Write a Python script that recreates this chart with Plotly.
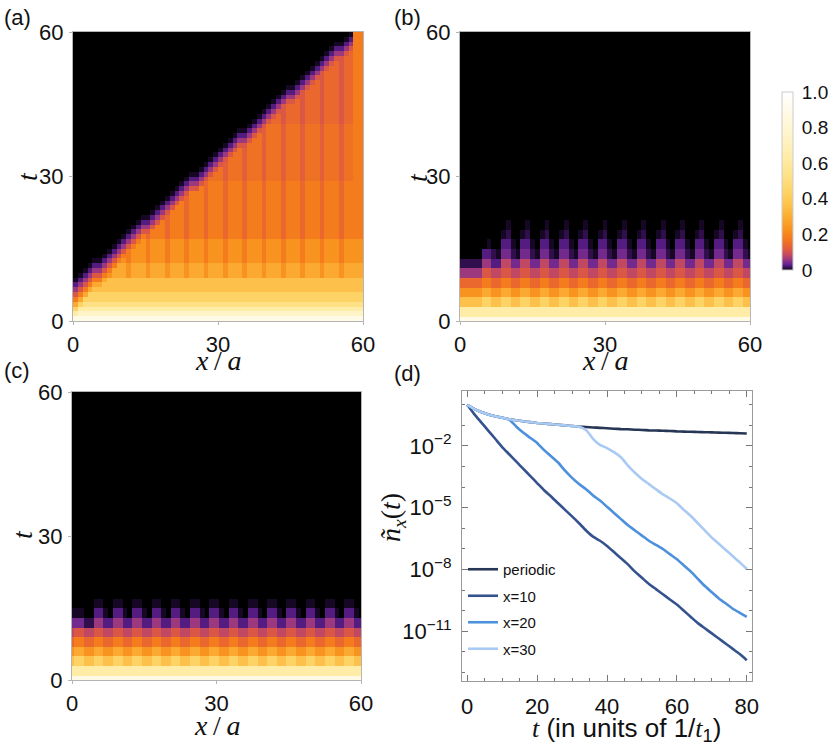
import plotly.graph_objects as go

SANS = "Liberation Sans, Arial, sans-serif"
SERIF = "Liberation Serif, Times New Roman, serif"

W, H = 831, 747

# ---- density maps (a)-(c): one character per cell, bottom row (t=0) first ----
LEVEL_CHARS = "0123456789abcdefghijk"
LEVEL_VALUES = [0, 0.005, 0.012, 0.025, 0.04, 0.06, 0.085, 0.11, 0.14, 0.18,
                0.23, 0.29, 0.36, 0.44, 0.53, 0.63, 0.75, 0.88, 1.0, 0.16, 0.125]

# (a) open chain: 60 sites x 60 time steps
MAP_A = [
    "hhhh hhhh hhhh hhhh hhhh hhhh hhhh hhhh hhhh hhhh hhhh hhhh hhhh hhhh hhhh",
    "fggg gggg gggg gggg gggg gggg gggg gggg gggg gggg gggg gggg gggg gggg gggg",
    "dfff ffff ffff ffff ffff ffff ffff ffff ffff ffff ffff ffff ffff ffff ffff",
    "bdee eeee eeee eeee eeee eeee eeee eeee eeee eeee eeee eeee eeee eeee eeee",
    "9bdd dddd dddd dddd dddd dddd dddd dddd dddd dddd dddd dddd dddd dddd dddd",
    "79bd dddd dddd dddd dddd dddd dddd dddd dddd dddd dddd dddd dddd dddd dddd",
    "579b cccc cccc cccc cccc cccc cccc cccc cccc cccc cccc cccc cccc cccc cccc",
    "3579 bbcc cccc cccc cccc cccc cccc cccc cccc cccc cccc cccc cccc cccc cccc",
    "1357 99bc cccc cccc cccc cccc cccc cccc cccc cccc cccc cccc cccc cccc cccc",
    "0135 779a bbba bbba bbba bbba bbba bbba bbba bbba bbba bbba bbba bbba bbbb",
    "0013 5579 bbba bbba bbba bbba bbba bbba bbba bbba bbba bbba bbba bbba bbbb",
    "0001 3357 9bba bbba bbba bbba bbba bbba bbba bbba bbba bbba bbba bbba bbbb",
    "0000 1135 79a9 aaa9 aaa9 aaa9 aaa9 aaa9 aaa9 aaa9 aaa9 aaa9 aaa9 aaa9 aaaa",
    "0000 0013 5799 aaa9 aaa9 aaa9 aaa9 aaa9 aaa9 aaa9 aaa9 aaa9 aaa9 aaa9 aaaa",
    "0000 0001 3579 aaa9 aaa9 aaa9 aaa9 aaa9 aaa9 aaa9 aaa9 aaa9 aaa9 aaa9 aaaa",
    "0000 0000 1357 9aa9 aaa9 aaa9 aaa9 aaa9 aaa9 aaa9 aaa9 aaa9 aaa9 aaa9 aaaa",
    "0000 0000 0135 79a9 aaa9 aaa9 aaa9 aaa9 aaa9 aaa9 aaa9 aaa9 aaa9 aaa9 aaaa",
    "0000 0000 0013 5798 9998 9998 9998 9998 9998 9998 9998 9998 9998 9998 9999",
    "0000 0000 0001 3577 9998 9998 9998 9998 9998 9998 9998 9998 9998 9998 9999",
    "0000 0000 0000 1355 7998 9998 9998 9998 9998 9998 9998 9998 9998 9998 9999",
    "0000 0000 0000 0133 5798 9998 9998 9998 9998 9998 9998 9998 9998 9998 9999",
    "0000 0000 0000 0011 3578 9998 9998 9998 9998 9998 9998 9998 9998 9998 9999",
    "0000 0000 0000 0000 1357 9998 9998 9998 9998 9998 9998 9998 9998 9998 9999",
    "0000 0000 0000 0000 0135 7998 9998 9998 9998 9998 9998 9998 9998 9998 9999",
    "0000 0000 0000 0000 0013 5798 9998 9998 9998 9998 9998 9998 9998 9998 9999",
    "0000 0000 0000 0000 0001 3578 9998 9998 9998 9998 9998 9998 9998 9998 9999",
    "0000 0000 0000 0000 0000 1357 9998 9998 9998 9998 9998 9998 9998 9998 9999",
    "0000 0000 0000 0000 0000 0135 7798 9998 9998 9998 9998 9998 9998 9998 9999",
    "0000 0000 0000 0000 0000 0013 5578 9998 9998 9998 9998 9998 9998 9998 9999",
    "0000 0000 0000 0000 0000 0001 3357 jjjk jjjk jjjk jjjk jjjk jjjk jjjk jj99",
    "0000 0000 0000 0000 0000 0000 1135 7jjk jjjk jjjk jjjk jjjk jjjk jjjk jj99",
    "0000 0000 0000 0000 0000 0000 0013 57jk jjjk jjjk jjjk jjjk jjjk jjjk jj99",
    "0000 0000 0000 0000 0000 0000 0001 357k jjjk jjjk jjjk jjjk jjjk jjjk jj99",
    "0000 0000 0000 0000 0000 0000 0000 1357 jjjk jjjk jjjk jjjk jjjk jjjk jj99",
    "0000 0000 0000 0000 0000 0000 0000 0135 7jjk jjjk jjjk jjjk jjjk jjjk jj99",
    "0000 0000 0000 0000 0000 0000 0000 0013 57jk jjjk jjjk jjjk jjjk jjjk jj99",
    "0000 0000 0000 0000 0000 0000 0000 0001 3577 jjjk jjjk jjjk jjjk jjjk jj99",
    "0000 0000 0000 0000 0000 0000 0000 0000 1355 7jjk jjjk jjjk jjjk jjjk jj99",
    "0000 0000 0000 0000 0000 0000 0000 0000 0133 57jk jjjk jjjk jjjk jjjk jj99",
    "0000 0000 0000 0000 0000 0000 0000 0000 0011 357k jjjk jjjk jjjk jjjk jj99",
    "0000 0000 0000 0000 0000 0000 0000 0000 0000 1357 jjjk jjjk jjjk jjjk jj99",
    "0000 0000 0000 0000 0000 0000 0000 0000 0000 0135 7887 8887 8887 8887 8899",
    "0000 0000 0000 0000 0000 0000 0000 0000 0000 0013 5787 8887 8887 8887 8899",
    "0000 0000 0000 0000 0000 0000 0000 0000 0000 0001 3577 8887 8887 8887 8899",
    "0000 0000 0000 0000 0000 0000 0000 0000 0000 0000 1357 8887 8887 8887 8899",
    "0000 0000 0000 0000 0000 0000 0000 0000 0000 0000 0135 7787 8887 8887 8899",
    "0000 0000 0000 0000 0000 0000 0000 0000 0000 0000 0013 5577 8887 8887 8899",
    "0000 0000 0000 0000 0000 0000 0000 0000 0000 0000 0001 3357 8887 8887 8899",
    "0000 0000 0000 0000 0000 0000 0000 0000 0000 0000 0000 1135 7887 8887 8899",
    "0000 0000 0000 0000 0000 0000 0000 0000 0000 0000 0000 0013 5787 8887 8899",
    "0000 0000 0000 0000 0000 0000 0000 0000 0000 0000 0000 0001 3577 8887 8899",
    "0000 0000 0000 0000 0000 0000 0000 0000 0000 0000 0000 0000 1357 8887 8899",
    "0000 0000 0000 0000 0000 0000 0000 0000 0000 0000 0000 0000 0135 7887 8899",
    "0000 0000 0000 0000 0000 0000 0000 0000 0000 0000 0000 0000 0013 5787 8899",
    "0000 0000 0000 0000 0000 0000 0000 0000 0000 0000 0000 0000 0001 3577 8899",
    "0000 0000 0000 0000 0000 0000 0000 0000 0000 0000 0000 0000 0000 1355 7899",
    "0000 0000 0000 0000 0000 0000 0000 0000 0000 0000 0000 0000 0000 0133 5799",
    "0000 0000 0000 0000 0000 0000 0000 0000 0000 0000 0000 0000 0000 0011 3599",
    "0000 0000 0000 0000 0000 0000 0000 0000 0000 0000 0000 0000 0000 0000 1399",
    "0000 0000 0000 0000 0000 0000 0000 0000 0000 0000 0000 0000 0000 0000 0199",
]

# (b), (c): 61 sites (x = 0..60), t = 0, 2, ..., 20 / 16; later rows are all 0
MAP_B = [
    "h hhhh hhhh hhhh hhhh hhhh hhhh hhhh hhhh hhhh hhhh hhhh hhhh hhhh hhhh hhhh",
    "f ffff ffff ffff ffff ffff ffff ffff ffff ffff ffff ffff ffff ffff ffff ffff",
    "c cccc ddcc ddcc ddcc ddcc ddcc ddcc ddcc ddcc ddcc ddcc ddcc ddcc ddcc ddcc",
    "a aaaa bbaa bbaa bbaa bbaa bbaa bbaa bbaa bbaa bbaa bbaa bbaa bbaa bbaa bbaa",
    "8 8888 9988 9988 9988 9988 9988 9988 9988 9988 9988 9988 9988 9988 9988 9988",
    "5 5555 7766 7766 7766 7766 7766 7766 7766 7766 7766 7766 7766 7766 7766 7766",
    "2 2222 5533 6644 6644 6644 6644 6644 6644 6644 6644 6644 6644 6644 6644 6644",
    "0 0000 3321 4421 4421 4421 4421 4421 4421 4421 4421 4421 4421 4421 4421 4421",
    "0 0000 0100 3310 3310 3310 3310 3310 3310 3310 3310 3310 3310 3310 3310 3310",
    "0 0000 0000 1200 1200 1200 1200 1200 1200 1200 1200 1200 1200 1200 1200 1200",
    "0 0000 0000 0100 0100 0100 0100 0100 0100 0100 0100 0100 0100 0100 0100 0100",
]
MAP_C = [
    "h hhhh hhhh hhhh hhhh hhhh hhhh hhhh hhhh hhhh hhhh hhhh hhhh hhhh hhhh hhhh",
    "f ffff ffff ffff ffff ffff ffff ffff ffff ffff ffff ffff ffff ffff ffff ffff",
    "c ddcc ddcc ddcc ddcc ddcc ddcc ddcc ddcc ddcc ddcc ddcc ddcc ddcc ddcc ddcc",
    "a bbaa bbaa bbaa bbaa bbaa bbaa bbaa bbaa bbaa bbaa bbaa bbaa bbaa bbaa bbaa",
    "8 9988 9988 9988 9988 9988 9988 9988 9988 9988 9988 9988 9988 9988 9988 9988",
    "6 7766 7766 7766 7766 7766 7766 7766 7766 7766 7766 7766 7766 7766 7766 7766",
    "4 4422 5533 5533 5533 5533 5533 5533 5533 5533 5533 5533 5533 5533 5533 5533",
    "1 1100 3310 3310 3310 3310 3310 3310 3310 3310 3310 3310 3310 3310 3310 3310",
    "0 0000 1100 1100 1100 1100 1100 1100 1100 1100 1100 1100 1100 1100 1100 1100",
]
N_ROWS_BC = 31
N_SITES_BC = 61

# ---- (d) decay curves, log10 of n~_x(t) ----
T_D = [0, 2, 4, 6, 8, 10, 12, 14, 16, 18, 20, 22, 24, 26, 28, 30, 32, 34, 36, 38, 40,
       42, 44, 46, 48, 50, 52, 54, 56, 58, 60, 62, 64, 66, 68, 70, 72, 74, 76, 78, 80]
LOG_PERIODIC = [0, -0.2, -0.35, -0.47, -0.56, -0.63, -0.7, -0.75, -0.8, -0.84, -0.88,
                -0.91, -0.94, -0.97, -1.0, -1.03, -1.06, -1.08, -1.1, -1.12, -1.14,
                -1.16, -1.18, -1.19, -1.21, -1.22, -1.24, -1.25, -1.26, -1.27, -1.29,
                -1.3, -1.31, -1.32, -1.33, -1.34, -1.35, -1.36, -1.37, -1.38, -1.39]
LOG_X10 = [0, -0.45, -0.85, -1.25, -1.65, -2.05, -2.4, -2.75, -3.1, -3.45, -3.8,
           -4.15, -4.45, -4.78, -5.1, -5.42, -5.75, -6.1, -6.4, -6.6, -6.85,
           -7.15, -7.45, -7.75, -8.1, -8.4, -8.7, -8.95, -9.2, -9.45, -9.7,
           -10.0, -10.3, -10.6, -10.85, -11.1, -11.35, -11.6, -11.85, -12.1, -12.4]
LOG_X20 = [0, -0.2, -0.35, -0.47, -0.56, -0.63, -0.72, -1.05, -1.35, -1.6, -1.85,
           -2.2, -2.5, -2.8, -3.2, -3.55, -3.85, -4.1, -4.4, -4.65, -4.95,
           -5.25, -5.55, -5.85, -6.1, -6.35, -6.6, -6.8, -7.0, -7.25, -7.5,
           -7.8, -8.1, -8.45, -8.8, -9.1, -9.4, -9.65, -9.9, -10.1, -10.3]
LOG_X30 = [0, -0.2, -0.35, -0.47, -0.56, -0.63, -0.7, -0.75, -0.8, -0.84, -0.88,
           -0.91, -0.94, -0.97, -1.0, -1.03, -1.06, -1.22, -1.65, -1.95, -2.1,
           -2.3, -2.55, -2.95, -3.3, -3.6, -3.85, -4.1, -4.35, -4.55, -4.78,
           -5.1, -5.4, -5.75, -6.1, -6.45, -6.75, -7.05, -7.35, -7.65, -7.97]
SERIES_NAMES = ["periodic", "x=10", "x=20", "x=30"]
SERIES_LOGS = [LOG_PERIODIC, LOG_X10, LOG_X20, LOG_X30]
SERIES_COLORS = ["#283655", "#34528e", "#4d90dc", "#a9caf2"]

COLORSCALE = [
    [0.0, "#000000"], [0.003, "#0d0616"], [0.008, "#240b3a"], [0.016, "#3d1260"],
    [0.028, "#5b1f8c"], [0.045, "#7f2d8c"], [0.065, "#a63c78"], [0.09, "#c84b5c"],
    [0.115, "#de5a40"], [0.145, "#ec6a2a"], [0.185, "#f57e1a"], [0.235, "#f9951f"],
    [0.295, "#fbab31"], [0.365, "#fdc24c"], [0.445, "#fed468"], [0.535, "#fee288"],
    [0.635, "#ffeca8"], [0.755, "#fff4c9"], [0.885, "#fffae6"], [1.0, "#ffffff"],
]

LEVEL = dict(zip(LEVEL_CHARS, LEVEL_VALUES))


def decode(rows, n_rows=None, width=None):
    z = [[LEVEL[c] for c in r.replace(" ", "")] for r in rows]
    if n_rows:
        while len(z) < n_rows:
            z.append([0.0] * width)
    return z


def px(x):
    return x / W


def py(y):
    return 1 - y / H


fig = go.Figure()

# (a)
fig.add_trace(go.Heatmap(z=decode(MAP_A), x0=0.5, dx=1, y0=0.5, dy=1,
                         coloraxis="coloraxis", xaxis="x", yaxis="y", hoverinfo="skip"))
# (b)
fig.add_trace(go.Heatmap(z=decode(MAP_B, N_ROWS_BC, N_SITES_BC), x0=0, dx=1, y0=0, dy=2,
                         coloraxis="coloraxis", xaxis="x2", yaxis="y2", hoverinfo="skip"))
# (c)
fig.add_trace(go.Heatmap(z=decode(MAP_C, N_ROWS_BC, N_SITES_BC), x0=0, dx=1, y0=0, dy=2,
                         coloraxis="coloraxis", xaxis="x3", yaxis="y3", hoverinfo="skip"))

# (d)
for name, logs, col in zip(SERIES_NAMES, SERIES_LOGS, SERIES_COLORS):
    fig.add_trace(go.Scatter(x=T_D, y=[10 ** v for v in logs], mode="lines", name=name,
                             legendgroup=name,
                             line=dict(color=col, width=2.6, shape="spline", smoothing=0.5),
                             xaxis="x4", yaxis="y4", hoverinfo="skip"))

tick_font = dict(family=SANS, size=22, color="#111111")
hm_common = dict(range=[0, 60], tickvals=[0, 30, 60], showline=True, linecolor="#b5b5b5",
                 linewidth=1, mirror=True, ticks="outside", ticklen=3, tickcolor="#b5b5b5",
                 showgrid=False, zeroline=False, tickfont=tick_font, fixedrange=True,
                 ticklabelstandoff=1, automargin=False)

dom = {
    "a": ([73, 363], [32, 321]),
    "b": ([460, 750], [32, 321]),
    "c": ([72, 361], [392, 680]),
    "d": ([462, 752], [391, 681]),
}


def xdom(k):
    return [px(dom[k][0][0]), px(dom[k][0][1])]


def ydom(k):
    return [py(dom[k][1][1]), py(dom[k][1][0])]


d_common = dict(showline=True, linecolor="#9a9a9a", linewidth=1, mirror="allticks",
                ticks="inside", ticklen=6, tickcolor="#777777", showgrid=False,
                zeroline=False, tickfont=tick_font, fixedrange=True, automargin=False)

fig.update_layout(
    width=W, height=H, margin=dict(l=0, r=0, t=0, b=0, pad=0, autoexpand=False),
    paper_bgcolor="white", plot_bgcolor="white",
    font=dict(family=SANS, color="#111111"),
    xaxis=dict(domain=xdom("a"), anchor="y", **hm_common),
    yaxis=dict(domain=ydom("a"), anchor="x", **hm_common),
    xaxis2=dict(domain=xdom("b"), anchor="y2", **hm_common),
    yaxis2=dict(domain=ydom("b"), anchor="x2", **hm_common),
    xaxis3=dict(domain=xdom("c"), anchor="y3", **hm_common),
    yaxis3=dict(domain=ydom("c"), anchor="x3", **hm_common),
    xaxis4=dict(domain=xdom("d"), anchor="y4", range=[-1.5, 81.5],
                tickvals=[0, 20, 40, 60, 80], ticklabelstandoff=6,
                minor=dict(dtick=5, tick0=0, ticks="inside", ticklen=3, tickcolor="#777777"),
                **d_common),
    yaxis4=dict(domain=ydom("d"), anchor="x4", type="log", range=[-13.41, 0.67],
                tickvals=[1e-2, 1e-5, 1e-8, 1e-11],
                ticktext=["10<sup>\u22122</sup>", "10<sup>\u22125</sup>",
                          "10<sup>\u22128</sup>", "10<sup>\u221211</sup>"],
                ticklabelstandoff=5,
                minor=dict(tickmode="array", tickvals=[10.0 ** k for k in range(-13, 1)],
                           ticks="inside", ticklen=3, tickcolor="#777777"),
                **d_common),
    coloraxis=dict(
        cmin=0, cmax=1, colorscale=COLORSCALE,
        colorbar=dict(x=px(782), xanchor="left", xpad=0, y=py(181), yanchor="middle",
                      ypad=0, len=178, lenmode="pixels", thickness=11,
                      thicknessmode="pixels", outlinewidth=1, outlinecolor="#cccccc",
                      tickvals=[0, 0.2, 0.4, 0.6, 0.8, 1.0],
                      ticktext=["0", "0.2", "0.4", "0.6", "0.8", "1.0"],
                      ticks="outside", ticklen=5, tickcolor="rgba(0,0,0,0)",
                      tickfont=dict(family=SANS, size=19, color="#111111")),
    ),
    showlegend=True,
    legend=dict(x=px(463), y=py(553), xanchor="left", yanchor="top",
                bgcolor="rgba(0,0,0,0)", font=dict(family=SANS, size=15, color="#111111"),
                traceorder="grouped", tracegroupgap=4, itemwidth=30),
)

notes = []
for label, (x, y) in {"(a)": (2, 18), "(b)": (392, 18), "(c)": (2, 371), "(d)": (392, 373)}.items():
    notes.append(dict(text=label, x=px(x), y=py(y), xanchor="left", yanchor="middle",
                      font=dict(family=SANS, size=22, color="#111111")))

serif_font = dict(family=SERIF, size=28, color="#111111")
for (x, y) in [(27, 176), (418, 178), (22, 535)]:
    notes.append(dict(text="<i>t</i>", x=px(x), y=py(y), textangle=-90, font=serif_font))
for (x, y) in [(218, 360), (605, 360), (217, 725)]:
    notes.append(dict(text="<i>x</i>\u2009/\u2009<i>a</i>", x=px(x), y=py(y), font=serif_font))

notes.append(dict(
    text=("<span style='font-family:Liberation Serif'><i>t</i></span> (in units of 1/"
          "<span style='font-family:Liberation Serif'><i>t</i></span><sub>1</sub>)"),
    x=px(626), y=py(729), font=dict(family=SANS, size=26, color="#111111")))
notes.append(dict(text="<i>\u00f1</i><sub><i>x</i></sub>(<i>t</i>)", x=px(392), y=py(518),
                  textangle=-90, font=serif_font))

for n in notes:
    n.update(xref="paper", yref="paper", showarrow=False)
    n.setdefault("xanchor", "center")
    n.setdefault("yanchor", "middle")
fig.update_layout(annotations=notes)

fig.write_html("out.html", config={"displayModeBar": False},
               post_script="document.body.style.margin = '0px';")
